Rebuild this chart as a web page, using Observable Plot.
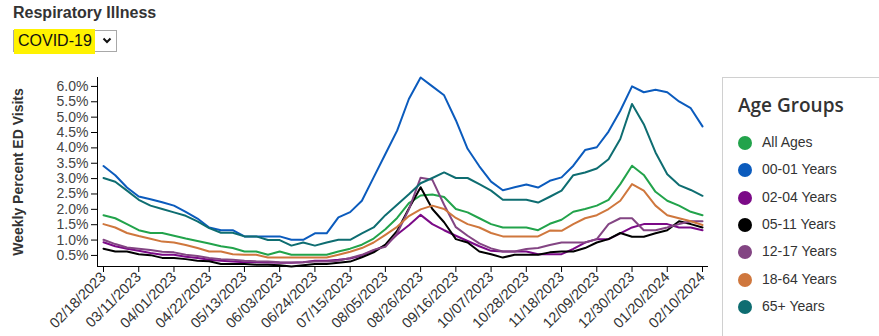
<!DOCTYPE html>
<html>
<head>
<meta charset="utf-8">
<script src="https://cdn.jsdelivr.net/npm/d3@7"></script>
<script src="https://cdn.jsdelivr.net/npm/@observablehq/plot@0.6"></script>
<style>
  html, body { margin: 0; padding: 0; background: #fff; }
  body { width: 879px; height: 336px; position: relative; overflow: hidden; font-family: Arial, "Liberation Sans", sans-serif; }
  #title { position: absolute; left: 13px; top: 4px; font-size: 16px; font-weight: bold; color: #333; }
  #select { position: absolute; left: 13px; top: 30px; width: 102px; height: 20px; border: 1px solid #a8a8a8; background: #fff; }
  #hl { position: absolute; left: 0px; top: -2px; width: 81px; height: 25px; background: #fff200; }
  #seltext { position: absolute; left: 4px; top: 1px; font-size: 16px; color: #111; }
  #chev { position: absolute; left: 88px; top: 6px; }
  #ylabel { position: absolute; left: 18px; top: 172px; transform: translate(-50%, -50%) rotate(-90deg); white-space: nowrap; font-size: 14px; font-weight: bold; color: #333; }
  #chart { position: absolute; left: 0; top: 0; }
  #legend { position: absolute; left: 722px; top: 77px; width: 170px; height: 280px; border: 1px solid #d0d0d0; background: #fff; }
  #legend h3 { margin: 0; position: absolute; left: 15px; top: 14px; font-family: "Open Sans", sans-serif; font-weight: 600; font-size: 19px; color: #333; }
  .item { position: absolute; left: 15px; height: 16px; font-size: 14px; color: #333; }
  .dot { position: absolute; left: 0; top: 1px; width: 14px; height: 14px; border-radius: 50%; }
  .lab { position: absolute; left: 24px; top: -1px; white-space: nowrap; }
</style>
</head>
<body>
<div id="title">Respiratory Illness</div>
<div id="select"><div id="hl"></div><div id="seltext">COVID-19</div>
  <svg id="chev" width="10" height="8" viewBox="0 0 10 8"><polyline points="1.5,1.5 5,5 8.5,1.5" fill="none" stroke="#111" stroke-width="2"/></svg>
</div>
<div id="ylabel">Weekly Percent ED Visits</div>
<div id="chart"></div>
<div id="legend"><h3>Age Groups</h3></div>
<script>
// ---- data ----
const startWeek = "2023-02-18"; // first weekly observation
const groups = ["All Ages", "00-01 Years", "02-04 Years", "05-11 Years", "12-17 Years", "18-64 Years", "65+ Years"];
const colors = ["#22a34b", "#0b5bbd", "#7b0a87", "#000000", "#834583", "#cf773d", "#0e6d71"];

const allAges = [1.81,1.71,1.52,1.32,1.23,1.23,1.14,1.05,0.97,0.89,0.80,0.74,0.63,
  0.63,0.52,0.63,0.52,0.52,0.52,0.52,0.63,0.72,0.85,1.05,1.35,1.72,
  2.20,2.45,2.48,2.40,2.01,1.90,1.71,1.52,1.41,1.41,1.41,1.32,1.53,
  1.66,1.92,2.01,2.12,2.31,2.82,3.42,3.12,2.57,2.28,2.12,1.92,1.81];
const age0001 = [3.41,3.11,2.71,2.42,2.33,2.23,2.12,1.92,1.70,1.41,1.32,1.32,1.12,
  1.12,1.12,1.12,1.01,1.01,1.22,1.22,1.74,1.91,2.28,3.04,3.80,4.56,
  5.59,6.29,6.00,5.71,4.90,3.97,3.40,2.90,2.62,2.72,2.81,2.71,2.93,
  3.04,3.42,3.93,4.02,4.53,5.21,6.00,5.81,5.89,5.81,5.51,5.29,4.70];
const age0204 = [0.93,0.80,0.72,0.65,0.58,0.52,0.52,0.46,0.42,0.36,0.33,0.30,0.28,
  0.28,0.27,0.26,0.26,0.28,0.33,0.33,0.36,0.40,0.50,0.66,0.82,1.18,
  1.48,1.82,1.52,1.32,1.14,0.97,0.80,0.65,0.63,0.63,0.63,0.54,0.54,
  0.54,0.71,0.92,1.03,1.03,1.22,1.41,1.52,1.52,1.52,1.41,1.41,1.32];
const age0511 = [0.72,0.63,0.63,0.54,0.51,0.42,0.42,0.38,0.33,0.31,0.22,0.22,0.22,
  0.20,0.20,0.18,0.14,0.18,0.22,0.22,0.26,0.30,0.44,0.60,0.85,1.30,
  2.03,2.72,2.01,1.58,1.03,0.92,0.63,0.54,0.43,0.52,0.52,0.52,0.60,
  0.63,0.63,0.74,0.92,1.03,1.23,1.11,1.11,1.22,1.32,1.61,1.52,1.41];
const age1217 = [1.01,0.87,0.76,0.72,0.68,0.62,0.60,0.52,0.48,0.42,0.38,0.36,0.33,
  0.31,0.30,0.28,0.27,0.28,0.30,0.30,0.33,0.42,0.52,0.68,0.78,1.22,
  2.00,3.03,2.96,2.15,1.42,1.14,0.89,0.73,0.63,0.63,0.71,0.74,0.84,
  0.92,0.92,0.92,1.03,1.52,1.71,1.71,1.32,1.32,1.41,1.52,1.61,1.61];
const age1864 = [1.52,1.41,1.23,1.13,1.04,0.95,0.92,0.84,0.74,0.63,0.63,0.54,0.52,
  0.52,0.43,0.43,0.43,0.43,0.43,0.43,0.52,0.62,0.74,0.92,1.17,1.43,
  1.78,2.00,2.12,2.01,1.72,1.52,1.41,1.23,1.12,1.12,1.12,1.12,1.31,
  1.30,1.52,1.71,1.81,2.01,2.28,2.82,2.61,2.12,1.81,1.71,1.61,1.49];
const age65 = [3.02,2.90,2.61,2.31,2.12,2.01,1.90,1.79,1.61,1.39,1.24,1.24,1.12,
  1.12,1.00,1.00,0.82,0.92,0.82,0.92,1.01,1.01,1.22,1.41,1.81,2.15,
  2.49,2.85,3.02,3.20,3.02,3.02,2.82,2.61,2.31,2.31,2.31,2.22,2.41,
  2.61,3.11,3.20,3.33,3.63,4.29,5.43,4.77,3.85,3.14,2.79,2.63,2.44];

const xTickLabels = ["02/18/2023","03/11/2023","04/01/2023","04/22/2023","05/13/2023","06/03/2023",
  "06/24/2023","07/15/2023","08/05/2023","08/26/2023","09/16/2023","10/07/2023","10/28/2023",
  "11/18/2023","12/09/2023","12/30/2023","01/20/2024","02/10/2024"];
const yTicks = [0.5,1.0,1.5,2.0,2.5,3.0,3.5,4.0,4.5,5.0,5.5,6.0];

// ---- build ----
const seriesValues = [allAges, age0001, age0204, age0511, age1217, age1864, age65];
const start = d3.utcParse("%Y-%m-%d")(startWeek);
const rows = [];
groups.forEach((g, gi) => {
  seriesValues[gi].forEach((v, i) => rows.push({group: g, date: d3.utcDay.offset(start, 7 * i), value: v}));
});
const parseTick = d3.utcParse("%m/%d/%Y");
const xTicks = xTickLabels.map(parseTick);
const allVals = rows.map(d => d.value);

const chart = Plot.plot({
  width: 879, height: 336,
  marginTop: 77, marginBottom: 70, marginLeft: 97, marginRight: 172,
  insetLeft: 6, insetRight: 5,
  style: {fontFamily: "Arial, 'Liberation Sans', sans-serif", color: "#333", background: "transparent", overflow: "visible"},
  x: {type: "utc", domain: [xTicks[0], xTicks[xTicks.length - 1]]},
  y: {domain: d3.extent(allVals)},
  color: {domain: groups, range: colors},
  marks: [
    Plot.axisY({ticks: yTicks, tickFormat: d => d.toFixed(1) + "%", tickSize: 6, tickPadding: 3, label: null, fontSize: 14, stroke: "#000", color: "#444"}),
    Plot.axisX({ticks: xTicks, tickFormat: d3.utcFormat("%m/%d/%Y"), tickRotate: -45, tickSize: 6, tickPadding: 2, label: null, fontSize: 14.5, stroke: "#000"}),
    Plot.frame({anchor: "left", stroke: "#000"}),
    Plot.frame({anchor: "bottom", stroke: "#000"}),
    Plot.line(rows, {x: "date", y: "value", z: "group", stroke: "group", strokeWidth: 2, curve: "linear"})
  ]
});
document.getElementById("chart").appendChild(chart);

// legend
const legend = document.getElementById("legend");
groups.forEach((g, i) => {
  const it = document.createElement("div");
  it.className = "item";
  it.style.top = (57 + i * 27.3) + "px";
  it.innerHTML = `<div class="dot" style="background:${colors[i]}"></div><div class="lab">${g}</div>`;
  legend.appendChild(it);
});
</script>
</body>
</html>
